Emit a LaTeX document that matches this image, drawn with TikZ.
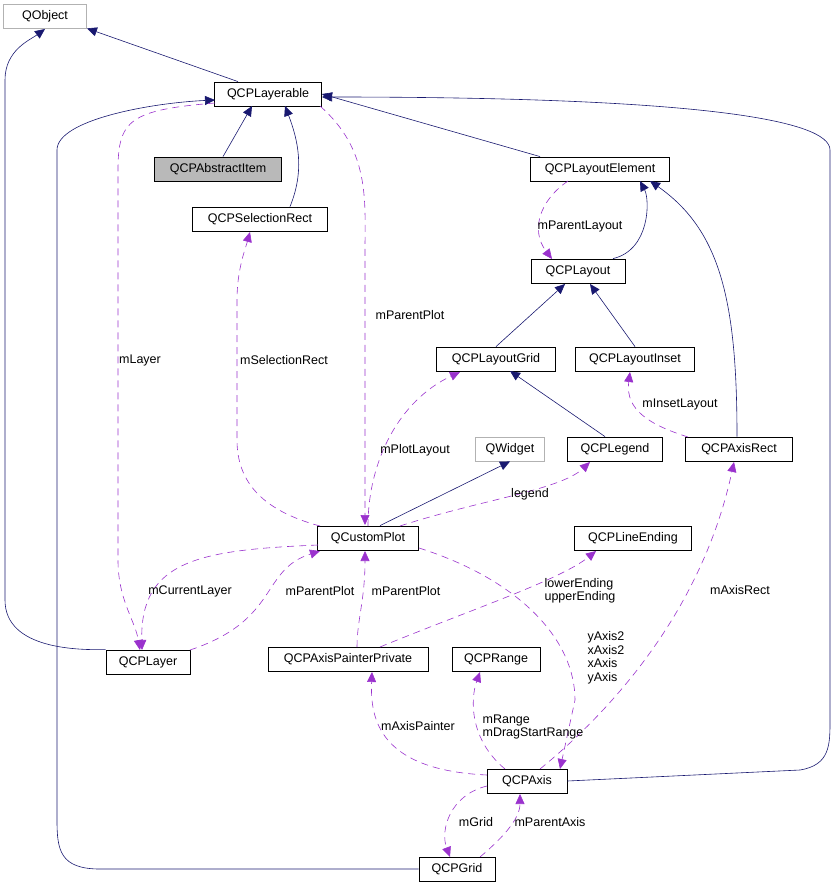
\documentclass[tikz,border=0pt]{standalone}
\usepackage{fontspec}
\setmainfont{Liberation Sans}
\usetikzlibrary{arrows.meta}
\definecolor{nav}{HTML}{191970}
\definecolor{pur}{HTML}{9A32CD}
\begin{document}
\begin{tikzpicture}[x=1pt,y=-1pt,font=\fontsize{12.5}{14}\selectfont,
 box/.style={draw=black,thick,fill=white,minimum height=24pt,inner sep=0pt,anchor=center},
 gbox/.style={box,draw=gray!60},
 inh/.style={draw=nav,semithick,-{Triangle[length=10pt,width=9pt]}},
 use/.style={draw=pur,semithick,dashed,dash pattern=on 7pt off 5pt,-{Triangle[length=10pt,width=9pt]}},
 lab/.style={font=\fontsize{12.5}{13.5}\selectfont,align=left,inner sep=1pt}]
\useasboundingbox (0,0) rectangle (836,888);
\node[gbox,minimum width=83pt] (qobj) at (45,16) {QObject};
\node[box,minimum width=107pt] (lay) at (268,94) {QCPLayerable};
\node[box,minimum width=127pt,fill=gray!55] (item) at (218,169) {QCPAbstractItem};
\node[box,minimum width=135pt] (sel) at (260,219) {QCPSelectionRect};
\node[box,minimum width=139pt] (le) at (600,169) {QCPLayoutElement};
\node[box,minimum width=94pt] (lo) at (578,271) {QCPLayout};
\node[box,minimum width=119pt] (lg) at (496,359) {QCPLayoutGrid};
\node[box,minimum width=119pt] (li) at (635,359) {QCPLayoutInset};
\node[gbox,minimum width=69pt] (qw) at (510,449) {QWidget};
\node[box,minimum width=95pt] (leg) at (615,449) {QCPLegend};
\node[box,minimum width=107pt] (ar) at (739,449) {QCPAxisRect};
\node[box,minimum width=101pt] (cp) at (368,538) {QCustomPlot};
\node[box,minimum width=117pt] (end) at (633,538) {QCPLineEnding};
\node[box,minimum width=84pt] (layer) at (148,662) {QCPLayer};
\node[box,minimum width=160pt] (app) at (348,659) {QCPAxisPainterPrivate};
\node[box,minimum width=88pt] (rng) at (496,659) {QCPRange};
\node[box,minimum width=80pt] (ax) at (527,781) {QCPAxis};
\node[box,minimum width=76pt] (grid) at (457,869) {QCPGrid};
% inheritance
\draw[inh] (lay.north) ++(-30,0) -- (qobj.south east);
\draw[inh] (item.north) ++(5,0) -- (252,106);
\draw[inh] (sel.north) ++(30,0) .. controls (305,170) and (298,140) .. (285,106);
\draw[inh] (le.north west) ++(10,0) -- (lay.east);
\draw[inh] (lo.north) ++(35,0) .. controls (650,250) and (650,200) .. (640,181);
\draw[inh] (lg.north) -- (565,284);
\draw[inh] (li.north) -- (590,284);
\draw[inh] (leg.north) ++(-10,0) -- (510,371);
\draw[inh] (ar.north) ++(-2,0) .. controls (737,300) and (720,230) .. (650,181);
\draw[inh] (cp.north) ++(12,0) -- (qw.south);
\draw[inh] (layer.north west) .. controls (80,650) and (5,650) .. (5,600) -- (5,80) .. controls (5,50) and (30,40) .. (45,29);
\draw[inh] (ax.east) -- (800,770) .. controls (830,765) and (830,745) .. (830,720) -- (830,150) .. controls (830,120) and (700,97) .. (322,97);
\draw[inh] (grid.west) -- (100,869) .. controls (60,869) and (57,850) .. (57,820) -- (57,150) .. controls (57,120) and (150,103) .. (215,100);
% usage
\draw[use] (215,103) .. controls (130,110) and (118,120) .. (118,170) -- (118,560) .. controls (118,600) and (135,620) .. (140,650);
\node[lab] at (140,360) {mLayer};
\draw[use] (320,106) .. controls (370,150) and (365,200) .. (365,250) -- (365,525);
\node[lab] at (410,315) {mParentPlot};
\draw[use] (320,526) .. controls (260,510) and (237,480) .. (237,440) -- (237,300) .. controls (237,270) and (245,250) .. (250,232);
\node[lab] at (284,360) {mSelectionRect};
\draw[use] (568,181) .. controls (540,200) and (530,230) .. (552,259);
\node[lab] at (580,226) {mParentLayout};
\draw[use] (368,526) .. controls (368,460) and (400,400) .. (460,372);
\node[lab] at (415,450) {mPlotLayout};
\draw[use] (688,437) .. controls (650,425) and (625,410) .. (630,372);
\node[lab] at (680,404) {mInsetLayout};
\draw[use] (400,526) .. controls (480,500) and (560,490) .. (590,462);
\node[lab] at (530,494) {legend};
\draw[use] (318,545) .. controls (200,550) and (140,560) .. (142,650);
\node[lab] at (190,591) {mCurrentLayer};
\draw[use] (190,650) .. controls (280,620) and (260,570) .. (320,551);
\node[lab] at (320,591) {mParentPlot};
\draw[use] (357,647) .. controls (357,620) and (365,600) .. (365,551);
\node[lab] at (406,591) {mParentPlot};
\draw[use] (380,647) .. controls (470,610) and (560,580) .. (596,551);
\node[lab] at (580,591) {lowerEnding\\upperEnding};
\draw[use] (419,548) .. controls (520,580) and (575,640) .. (575,700) -- (560,769);
\node[lab] at (606,658) {yAxis2\\xAxis2\\xAxis\\yAxis};
\draw[use] (540,769) .. controls (600,720) and (700,620) .. (734,462);
\node[lab] at (740,590) {mAxisRect};
\draw[use] (487,775) .. controls (380,770) and (370,720) .. (372,672);
\node[lab] at (418,726) {mAxisPainter};
\draw[use] (505,769) .. controls (470,740) and (470,700) .. (480,672);
\node[lab] at (533,727) {mRange\\mDragStartRange};
\draw[use] (487,786) .. controls (450,795) and (440,830) .. (450,857);
\node[lab] at (476,822) {mGrid};
\draw[use] (480,857) .. controls (500,840) and (520,820) .. (520,794);
\node[lab] at (550,822) {mParentAxis};
\end{tikzpicture}
\end{document}
